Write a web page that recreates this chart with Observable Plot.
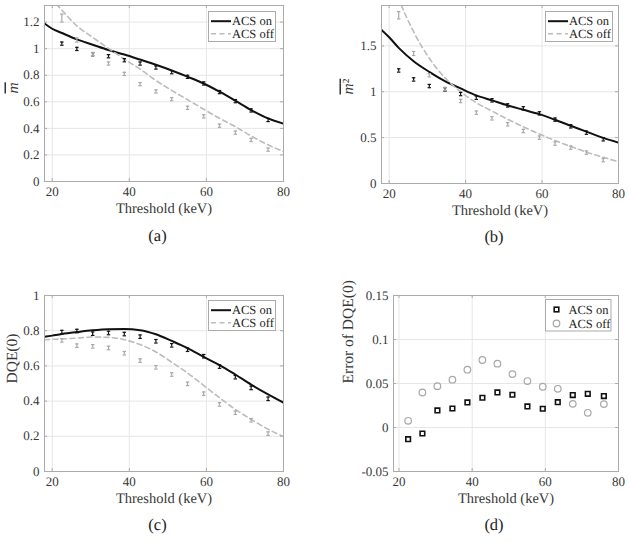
<!DOCTYPE html>
<html><head><meta charset="utf-8">
<script src="https://cdn.jsdelivr.net/npm/d3@7"></script>
<script src="https://cdn.jsdelivr.net/npm/@observablehq/plot@0.6"></script>
<style>
body{margin:0;background:#fff;}
#wrap{position:relative;width:629px;height:543px;overflow:hidden;font-family:"Liberation Serif",serif;}
#wrap svg, #wrap svg text{font-family:"Liberation Serif",serif !important;text-rendering:geometricPrecision;}
.panel{position:absolute;}
.legend{position:absolute;overflow:visible;}
</style></head><body><div id="wrap"></div>
<script>
// ---------- data ----------
const thresholds = [22.5, 26.4, 30.5, 34.6, 38.7, 42.8, 46.9, 51.0, 55.1, 59.3, 63.4, 67.5, 71.6, 76.0];
const curveX     = [18, 20, 22.5, 26.4, 30.5, 34.6, 38.7, 42.8, 46.9, 51.0, 55.1, 59.3, 63.4, 67.5, 71.6, 76.0, 80];
const xTicks = [20, 40, 60, 80];
const seriesNames = ["ACS on", "ACS off"];

// (a) mean m
const aOnCurve  = [1.19, 1.15, 1.118, 1.07, 1.03, 0.99, 0.956, 0.918, 0.879, 0.836, 0.789, 0.738, 0.676, 0.608, 0.538, 0.475, 0.435];
const aOffCurve = [1.43, 1.37, 1.29, 1.172, 1.085, 1.002, 0.922, 0.846, 0.76, 0.686, 0.616, 0.544, 0.476, 0.413, 0.343, 0.276, 0.225];
const aOnPts    = [1.038, 0.998, 0.958, 0.943, 0.913, 0.888, 0.858, 0.823, 0.788, 0.738, 0.673, 0.605, 0.535, 0.463];
const aOffPts   = [1.23, 1.065, 0.96, 0.888, 0.81, 0.733, 0.678, 0.62, 0.555, 0.49, 0.42, 0.368, 0.313, 0.24];
const aOnErr    = [0.012, 0.012, 0.012, 0.012, 0.012, 0.012, 0.012, 0.012, 0.012, 0.012, 0.012, 0.012, 0.012, 0.012];
const aOffErr   = [0.03, 0.015, 0.012, 0.012, 0.012, 0.012, 0.012, 0.012, 0.012, 0.012, 0.012, 0.012, 0.012, 0.012];
const aTicks = [0, 0.2, 0.4, 0.6, 0.8, 1, 1.2];

// (b) mean m^2
const bOnCurve  = [1.675, 1.594, 1.478, 1.333, 1.217, 1.116, 1.036, 0.96, 0.906, 0.851, 0.804, 0.756, 0.695, 0.63, 0.565, 0.497, 0.446];
const bOffCurve = [2.75, 2.4, 2.03, 1.655, 1.365, 1.152, 1.0, 0.88, 0.79, 0.70, 0.618, 0.54, 0.468, 0.404, 0.342, 0.286, 0.236];
const bOnPts    = [1.232, 1.134, 1.062, 1.025, 0.975, 0.935, 0.906, 0.851, 0.819, 0.764, 0.696, 0.623, 0.554, 0.482];
const bOffPts   = [1.833, 1.417, 1.18, 1.03, 0.899, 0.772, 0.71, 0.645, 0.572, 0.5, 0.435, 0.391, 0.337, 0.254];
const bOnErr    = [0.018, 0.018, 0.018, 0.018, 0.018, 0.018, 0.018, 0.018, 0.018, 0.018, 0.018, 0.018, 0.018, 0.018];
const bOffErr   = [0.04, 0.022, 0.018, 0.018, 0.018, 0.018, 0.018, 0.018, 0.018, 0.018, 0.018, 0.018, 0.018, 0.018];
const bTicks = [0, 0.5, 1, 1.5];

// (c) DQE(0)
const cOnCurve  = [0.765, 0.772, 0.781, 0.792, 0.802, 0.808, 0.809, 0.803, 0.78, 0.742, 0.701, 0.651, 0.605, 0.551, 0.494, 0.438, 0.391];
const cOffCurve = [0.749, 0.751, 0.753, 0.758, 0.764, 0.762, 0.749, 0.721, 0.679, 0.621, 0.56, 0.489, 0.419, 0.353, 0.296, 0.24, 0.198];
const cOnPts    = [0.792, 0.798, 0.783, 0.787, 0.781, 0.766, 0.74, 0.717, 0.692, 0.655, 0.596, 0.536, 0.475, 0.413];
const cOffPts   = [0.745, 0.715, 0.711, 0.702, 0.672, 0.63, 0.592, 0.551, 0.498, 0.442, 0.381, 0.334, 0.291, 0.215];
const cOnErr    = [0.01, 0.01, 0.01, 0.01, 0.01, 0.01, 0.01, 0.01, 0.01, 0.01, 0.01, 0.01, 0.01, 0.01];
const cOffErr   = [0.01, 0.01, 0.01, 0.01, 0.01, 0.01, 0.01, 0.01, 0.01, 0.01, 0.01, 0.01, 0.01, 0.01];
const cTicks = [0, 0.2, 0.4, 0.6, 0.8, 1];

// (d) error of DQE(0)
const dOn  = [-0.0133, -0.0068, 0.0194, 0.0216, 0.0285, 0.0338, 0.0398, 0.0372, 0.0239, 0.0213, 0.0288, 0.0368, 0.0383, 0.0357];
const dOff = [0.0076, 0.0398, 0.047, 0.0543, 0.0657, 0.0767, 0.0725, 0.0607, 0.0528, 0.0463, 0.044, 0.0269, 0.0167, 0.0266];
const dTicks = [-0.05, 0, 0.05, 0.1, 0.15];

// ---------- helpers ----------
const BLACK = "#111", GRAY = "#bcbcbc", GRAYPT = "#a8a8a8", FRAME = "#ababab", GRID = "#e6e6e6", TEXT = "#383838";
const SERIF = '"Liberation Serif", serif';
const curveRows = ys => curveX.map((x, i) => ({x, y: ys[i]}));
const ptRows = (ys, es) => thresholds.map((x, i) => ({x, y: ys[i], e: es ? es[i] : 0}));
const wrap = d3.select("#wrap");

function errMarks(rows, color) {
  return [
    Plot.ruleX(rows, {x: "x", y1: d => d.y - d.e, y2: d => d.y + d.e, stroke: color, strokeWidth: 1.2}),
    Plot.link(rows, {x1: d => d.x - 0.45, x2: d => d.x + 0.45, y1: d => d.y - d.e, y2: d => d.y - d.e, stroke: color, strokeWidth: 1.2}),
    Plot.link(rows, {x1: d => d.x - 0.45, x2: d => d.x + 0.45, y1: d => d.y + d.e, y2: d => d.y + d.e, stroke: color, strokeWidth: 1.2})
  ];
}

function panel(cfg) {
  const innerW = cfg.width - cfg.mL - cfg.mR;
  const innerH = cfg.height - cfg.mT - cfg.mB;
  const chart = Plot.plot({
    width: cfg.width, height: cfg.height,
    marginLeft: cfg.mL, marginRight: cfg.mR, marginTop: cfg.mT, marginBottom: cfg.mB,
    style: {fontFamily: SERIF, background: "transparent", overflow: "visible"},
    x: {domain: cfg.xDomain, axis: null},
    y: {domain: cfg.yDomain, axis: null},
    marks: [
      Plot.gridX(xTicks, {stroke: GRID, strokeOpacity: 1}),
      Plot.gridY(cfg.yTicks, {stroke: GRID, strokeOpacity: 1}),
      Plot.ruleX(xTicks, {x: d => d, insetTop: innerH - 3, stroke: FRAME}),
      Plot.ruleX(xTicks, {x: d => d, insetBottom: innerH - 3, stroke: FRAME}),
      Plot.ruleY(cfg.yTicks, {y: d => d, insetRight: innerW - 3, stroke: FRAME}),
      Plot.ruleY(cfg.yTicks, {y: d => d, insetLeft: innerW - 3, stroke: FRAME}),
      ...cfg.marks,
      Plot.frame({stroke: FRAME}),
      Plot.axisX(xTicks, {tickSize: 0, tickPadding: 5, fontSize: 13, fontFamily: SERIF, color: TEXT, label: null}),
      Plot.axisY(cfg.yTicks, {tickSize: 0, tickPadding: 5, fontSize: 13, fontFamily: SERIF, color: TEXT, label: null, tickFormat: d => String(d)}),
      Plot.text([cfg.yLabel], {text: d => d, frameAnchor: "left", dx: cfg.yLabelDx, rotate: -90, fontSize: 15.5, fontFamily: SERIF, fill: TEXT, fontStyle: cfg.yItalic ? "italic" : "normal"}),
      Plot.text(["Threshold (keV)"], {text: d => d, frameAnchor: "bottom", dy: 31, fontSize: 14.5, fontFamily: SERIF, fill: TEXT}),
      Plot.text([cfg.letter], {text: d => d, frameAnchor: "bottom", dx: cfg.letterDx, dy: cfg.letterDy, fontSize: 16.5, fontFamily: SERIF, fill: "#222"})
    ]
  });
  const div = wrap.append("div").attr("class", "panel").style("left", cfg.left + "px").style("top", cfg.top + "px");
  div.node().appendChild(chart);
  const svg = d3.select(chart);
  if (cfg.overline) {
    svg.selectAll("text").filter(function () { return this.textContent === cfg.yLabel; })
      .each(function () {
        const t = d3.select(this);
        t.style("text-decoration", "overline");
        if (cfg.yLabel === "m²") {
          t.text("");
          t.append("tspan").attr("font-style", "italic").text("m");
          t.append("tspan").attr("font-style", "normal").text("²");
        }
      });
  }
  return chart;
}

function addLegend(cfg) {
  const svg = wrap.append("svg").attr("class", "legend")
    .style("left", cfg.left + "px").style("top", cfg.top + "px")
    .attr("width", cfg.w).attr("height", cfg.h);
  svg.append("rect").attr("x", 0.5).attr("y", 0.5).attr("width", cfg.w - 1).attr("height", cfg.h - 1)
    .attr("fill", "#fff").attr("stroke", FRAME);
  cfg.rows.forEach((r, i) => {
    const y = cfg.rowY[i];
    if (r === "solid") {
      svg.append("line").attr("x1", 3).attr("x2", 23).attr("y1", y).attr("y2", y).attr("stroke", BLACK).attr("stroke-width", 2);
    } else if (r === "dash") {
      svg.append("line").attr("x1", 3).attr("x2", 23).attr("y1", y).attr("y2", y).attr("stroke", GRAY).attr("stroke-width", 1.6).attr("stroke-dasharray", "5,3.5");
    } else if (r === "square") {
      svg.append("rect").attr("x", cfg.markX - 2.3).attr("y", y - 2.3).attr("width", 4.6).attr("height", 4.6).attr("fill", "none").attr("stroke", BLACK).attr("stroke-width", 1.6);
    } else {
      svg.append("circle").attr("cx", cfg.markX).attr("cy", y).attr("r", 3.3).attr("fill", "none").attr("stroke", GRAYPT).attr("stroke-width", 1.2);
    }
    svg.append("text").attr("x", cfg.textX).attr("y", y).attr("dominant-baseline", "central")
      .attr("font-size", 12.5).attr("fill", "#222").text(seriesNames[i]);
  });
}

function lineMarks(onC, offC) {
  return [
    Plot.line(curveRows(onC), {x: "x", y: "y", stroke: BLACK, strokeWidth: 2, curve: "monotone-x", clip: true}),
    Plot.line(curveRows(offC), {x: "x", y: "y", stroke: GRAY, strokeWidth: 1.6, strokeDasharray: "5,3.5", curve: "monotone-x", clip: true})
  ];
}

// ---------- panels ----------
panel({left: 0, top: 0, width: 315, height: 270, mL: 44, mR: 32, mT: 5, mB: 89,
  xDomain: [18, 80], yDomain: [0, 1.325], yTicks: aTicks, yLabel: "m", yItalic: true, overline: true, yLabelDx: -31,
  letter: "(a)", letterDx: -6.5, letterDy: 59.5,
  marks: [...lineMarks(aOnCurve, aOffCurve), ...errMarks(ptRows(aOnPts, aOnErr), BLACK), ...errMarks(ptRows(aOffPts, aOffErr), GRAYPT)]});

panel({left: 315, top: 0, width: 314, height: 270, mL: 66, mR: 11, mT: 5, mB: 87,
  xDomain: [18, 80], yDomain: [0, 1.94], yTicks: bTicks, yLabel: "m²", yItalic: false, overline: true, yLabelDx: -33,
  letter: "(b)", letterDx: -6, letterDy: 58.5,
  marks: [...lineMarks(bOnCurve, bOffCurve), ...errMarks(ptRows(bOnPts, bOnErr), BLACK), ...errMarks(ptRows(bOffPts, bOffErr), GRAYPT)]});

panel({left: 0, top: 270, width: 315, height: 273, mL: 44, mR: 32, mT: 25, mB: 72,
  xDomain: [18, 80], yDomain: [0, 1], yTicks: cTicks, yLabel: "DQE(0)", yLabelDx: -32,
  letter: "(c)", letterDx: -6.5, letterDy: 58,
  marks: [...lineMarks(cOnCurve, cOffCurve), ...errMarks(ptRows(cOnPts, cOnErr), BLACK), ...errMarks(ptRows(cOffPts, cOffErr), GRAYPT)]});

panel({left: 315, top: 270, width: 314, height: 273, mL: 78, mR: 11, mT: 25, mB: 72,
  xDomain: [18.5, 80], yDomain: [-0.05, 0.15], yTicks: dTicks, yLabel: "Error of DQE(0)", yLabelDx: -45,
  letter: "(d)", letterDx: -12, letterDy: 58,
  marks: [
    Plot.dot(ptRows(dOn), {x: "x", y: "y", symbol: "square", r: 2.6, stroke: BLACK, strokeWidth: 1.6, fill: "none"}),
    Plot.dot(ptRows(dOff), {x: "x", y: "y", symbol: "circle", r: 3.3, stroke: GRAYPT, strokeWidth: 1.2, fill: "none"})
  ]});

// ---------- legends ----------
addLegend({left: 208, top: 10.5, w: 68, h: 31, rowY: [10.2, 22.8], rows: ["solid", "dash"], textX: 24});
addLegend({left: 545, top: 10.5, w: 68, h: 31, rowY: [10.2, 22.8], rows: ["solid", "dash"], textX: 24});
addLegend({left: 208, top: 300, w: 68, h: 31, rowY: [10.2, 22.8], rows: ["solid", "dash"], textX: 24});
addLegend({left: 545, top: 298.5, w: 66.5, h: 32.5, rowY: [10.5, 24.5], rows: ["square", "circle"], markX: 11.5, textX: 23.5});
</script>
</body></html>
